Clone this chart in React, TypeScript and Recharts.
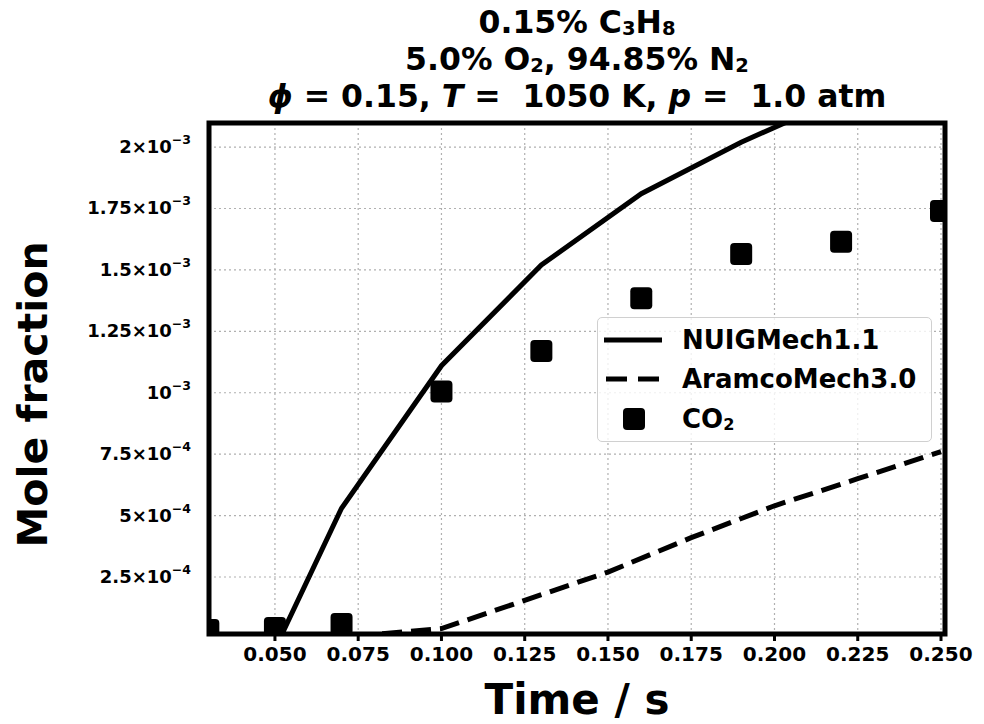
import React from "react";
import { ComposedChart, Line, Scatter, XAxis, YAxis, CartesianGrid, ReferenceArea, Label } from "recharts";

const nuigTime = [0.03, 0.04, 0.0515, 0.07, 0.1, 0.13, 0.16, 0.19, 0.22, 0.25];
const nuigMole = [0, 0, 0, 0.53e-3, 1.11e-3, 1.52e-3, 1.81e-3, 2.02e-3, 2.2e-3, 2.34e-3];

const aramcoTime = [0.03, 0.05, 0.07, 0.1, 0.125, 0.15, 0.175, 0.2, 0.225, 0.25];
const aramcoMole = [0, 0, 0.005e-3, 0.04e-3, 0.155e-3, 0.27e-3, 0.41e-3, 0.54e-3, 0.65e-3, 0.76e-3];

const co2Time = [0.03, 0.05, 0.07, 0.1, 0.13, 0.16, 0.19, 0.22, 0.25];
const co2Mole = [0.034e-3, 0.042e-3, 0.059e-3, 1.005e-3, 1.17e-3, 1.385e-3, 1.565e-3, 1.615e-3, 1.74e-3];

const xTicks = [0.05, 0.075, 0.1, 0.125, 0.15, 0.175, 0.2, 0.225, 0.25];
const xTickLabels = ["0.050", "0.075", "0.100", "0.125", "0.150", "0.175", "0.200", "0.225", "0.250"];
const yTicks = [0.25e-3, 0.5e-3, 0.75e-3, 1e-3, 1.25e-3, 1.5e-3, 1.75e-3, 2e-3];
const yTickMant = ["2.5×", "5×", "7.5×", "", "1.25×", "1.5×", "1.75×", "2×"];
const yTickExp = ["−4", "−4", "−4", "−3", "−3", "−3", "−3", "−3"];

const seriesNames = ["NUIGMech1.1", "AramcoMech3.0"];

const xDomain = [0.0302, 0.2512];
const yDomain = [0.018e-3, 2.098e-3];

const nuigData = nuigTime.map((t, i) => ({ t, y: nuigMole[i] }));
const aramcoData = aramcoTime.map((t, i) => ({ t, y: aramcoMole[i] }));
const co2Data = co2Time.map((t, i) => ({ t, y: co2Mole[i] }));

const FONT = "'DejaVu Sans', sans-serif";

const XTick = (props: any) => {
  const { x, y, payload } = props;
  const i = xTicks.indexOf(payload.value);
  return (
    <text x={x} y={y + 18} textAnchor="middle" fontFamily={FONT} fontWeight="bold" fontSize={20} fill="#000">
      {xTickLabels[i]}
    </text>
  );
};

const YTick = (props: any) => {
  const { x, y, payload } = props;
  const i = yTicks.indexOf(payload.value);
  return (
    <text x={x} y={y + 6} textAnchor="end" fontFamily={FONT} fontWeight="bold" fontSize={18} fill="#000">
      {yTickMant[i]}10
      <tspan dy={-9} fontSize={12.5}>{yTickExp[i]}</tspan>
    </text>
  );
};

const Square = (props: any) => {
  const { cx, cy } = props;
  return <rect x={cx - 11} y={cy - 11} width={22} height={22} rx={4} fill="#000" />;
};

const XLabel = (props: any) => {
  const { viewBox } = props;
  return (
    <text x={viewBox.x + viewBox.width / 2} y={714} textAnchor="middle" fontFamily={FONT} fontWeight="bold" fontSize={42} fill="#000">
      Time / s
    </text>
  );
};

const YLabel = (props: any) => {
  const { viewBox } = props;
  const cy = viewBox.y + viewBox.height / 2 + 16;
  return (
    <text x={47} y={cy} transform={`rotate(-90 47 ${cy})`} textAnchor="middle" fontFamily={FONT} fontWeight="bold" fontSize={41} fill="#000">
      Mole fraction
    </text>
  );
};

const Sub = ({ children }: { children: React.ReactNode }) => (
  <span style={{ fontSize: "0.62em", verticalAlign: "-0.12em", lineHeight: 0 }}>{children}</span>
);

export default function App() {
  return (
    <div style={{ position: "absolute", left: 0, top: 0, width: 984, height: 724, background: "#fff", fontFamily: FONT }}>
      <div style={{ position: "absolute", left: 209, width: 736, top: 4, textAlign: "center", fontWeight: "bold", fontSize: 31.5, lineHeight: "37px", color: "#000", whiteSpace: "pre" }}>
        <div>0.15% C<Sub>3</Sub>H<Sub>8</Sub></div>
        <div>5.0% O<Sub>2</Sub>, 94.85% N<Sub>2</Sub></div>
        <div>
          <i>ϕ</i> = 0.15, <i>T</i> =  1050 K, <i>p</i> =  1.0 atm
        </div>
      </div>
      <ComposedChart width={984} height={724} margin={{ top: 123, right: 39, bottom: 0, left: 0 }}>
        <CartesianGrid stroke="#b0b0b0" strokeDasharray="2 3" strokeWidth={1.2} />
        <XAxis
          dataKey="t"
          type="number"
          domain={xDomain}
          ticks={xTicks}
          allowDataOverflow
          height={90}
          axisLine={false}
          tickLine={{ stroke: "#000", strokeWidth: 3 }}
          tickSize={7}
          tick={<XTick />}
        >
          <Label content={<XLabel />} />
        </XAxis>
        <YAxis
          dataKey="y"
          type="number"
          domain={yDomain}
          ticks={yTicks}
          allowDataOverflow
          width={209}
          axisLine={false}
          tickLine={false}
          tickSize={0}
          tickMargin={18}
          tick={<YTick />}
        >
          <Label content={<YLabel />} />
        </YAxis>
        <Line data={nuigData} dataKey="y" name={seriesNames[0]} type="linear" stroke="#000" strokeWidth={5} dot={false} isAnimationActive={false} />
        <Line data={aramcoData} dataKey="y" name={seriesNames[1]} type="linear" stroke="#000" strokeWidth={5} strokeDasharray="20 9" dot={false} isAnimationActive={false} />
        <Scatter data={co2Data} dataKey="y" name="CO2" fill="#000" shape={<Square />} isAnimationActive={false} />
        <ReferenceArea x1={xDomain[0]} x2={xDomain[1]} y1={yDomain[0]} y2={yDomain[1]} fill="none" stroke="#000" strokeWidth={5} ifOverflow="visible" />
      </ComposedChart>
      <div style={{ position: "absolute", left: 597, top: 317, width: 333, height: 123, border: "1.5px solid #d0d0d0", borderRadius: 5, background: "rgba(255,255,255,0.8)", fontWeight: "bold", fontSize: 26, color: "#000" }}>
        <div style={{ position: "absolute", left: 6, top: 7, display: "flex", alignItems: "center", height: 30 }}>
          <svg width={58} height={10}><line x1={0} y1={5} x2={58} y2={5} stroke="#000" strokeWidth={5} /></svg>
          <span style={{ marginLeft: 20 }}>{seriesNames[0]}</span>
        </div>
        <div style={{ position: "absolute", left: 6, top: 46, display: "flex", alignItems: "center", height: 30 }}>
          <svg width={58} height={10}><line x1={2} y1={5} x2={58} y2={5} stroke="#000" strokeWidth={5} strokeDasharray="21 11" /></svg>
          <span style={{ marginLeft: 20 }}>{seriesNames[1]}</span>
        </div>
        <div style={{ position: "absolute", left: 6, top: 86, display: "flex", alignItems: "center", height: 30 }}>
          <svg width={58} height={24}><rect x={19} y={1} width={22} height={22} rx={4} fill="#000" /></svg>
          <span style={{ marginLeft: 20 }}>CO<Sub>2</Sub></span>
        </div>
      </div>
    </div>
  );
}
